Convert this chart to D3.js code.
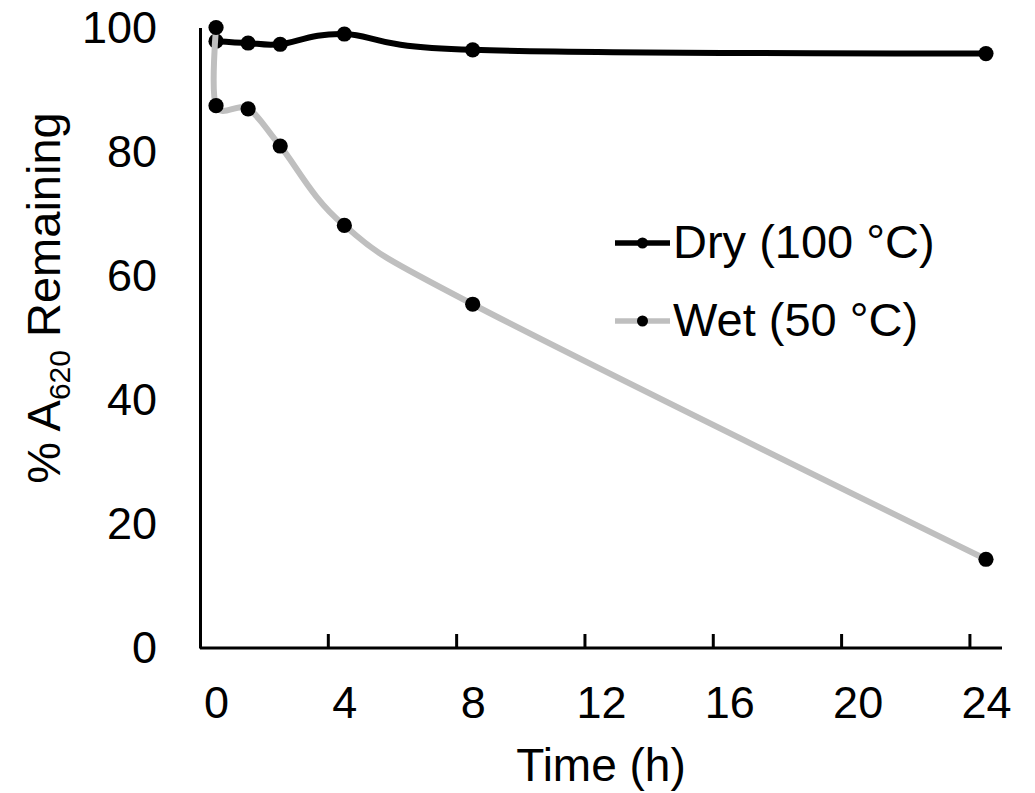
<!DOCTYPE html>
<html>
<head>
<meta charset="utf-8">
<script src="https://cdn.jsdelivr.net/npm/d3@7"></script>
<style>
  body { margin: 0; background: #fff; }
  svg text { font-family: "Liberation Sans", Arial, sans-serif; fill: #000; }
</style>
</head>
<body>
<svg id="chart" width="1035" height="793"></svg>
<script>
// data
var dryHours = [0, 1, 2, 4, 8, 24];
var dryVals = [97.8, 97.5, 97.3, 98.95, 96.4, 95.8];
var wetHours = [0, 0, 1, 2, 4, 8, 24];
var wetVals = [100, 87.4, 86.9, 80.9, 68.1, 55.4, 14.3];
var xTicks = [0, 4, 8, 12, 16, 20, 24];
var yTicks = [0, 20, 40, 60, 80, 100];
var seriesNames = ["Dry (100 \u00B0C)", "Wet (50 \u00B0C)"];

var svg = d3.select("#chart");
var fs = 45;

var x = d3.scaleLinear().domain([-0.5, 24.5]).range([200, 1002]);
var y = d3.scaleLinear().domain([0, 100]).range([648, 27.5]);

// y axis: line + labels, no ticks
var yAxis = svg.append("g")
    .attr("transform", "translate(200,0)")
    .call(d3.axisLeft(y).tickValues(yTicks).tickSize(0).tickPadding(43));
yAxis.select(".domain").attr("stroke", "#000").attr("stroke-width", 3);
yAxis.selectAll("text").attr("font-size", fs).attr("font-family", null).attr("dy", "0.33em");

// x axis: labels sit on the hours, ticks sit half an hour before
var xAxis = svg.append("g")
    .attr("transform", "translate(0,648)")
    .call(d3.axisBottom(x).tickValues(xTicks).tickSize(0).tickPadding(38));
xAxis.select(".domain").remove();
xAxis.selectAll("text").attr("font-size", fs).attr("font-family", null);

svg.append("line")
    .attr("x1", x(-0.5)).attr("x2", x(24.5))
    .attr("y1", 648).attr("y2", 648)
    .attr("stroke", "#000").attr("stroke-width", 3);

svg.selectAll(".xtick")
    .data(xTicks.slice(1))
    .enter().append("line")
    .attr("class", "xtick")
    .attr("x1", function(d) { return x(d - 0.5); })
    .attr("x2", function(d) { return x(d - 0.5); })
    .attr("y1", 648).attr("y2", 634)
    .attr("stroke", "#000").attr("stroke-width", 3);

// axis titles
svg.append("text")
    .attr("x", x(12)).attr("y", 781)
    .attr("text-anchor", "middle")
    .attr("font-size", 46)
    .text("Time (h)");

var yt = svg.append("text")
    .attr("transform", "translate(60,298) rotate(-90)")
    .attr("text-anchor", "middle")
    .attr("font-size", 47);
yt.append("tspan").text("% A");
yt.append("tspan").attr("font-size", 30).attr("dy", 10).text("620");
yt.append("tspan").attr("dy", -10).text(" Remaining");

// series
var line = d3.line()
    .x(function(d) { return x(d[0]); })
    .y(function(d) { return y(d[1]); })
    .curve(d3.curveCardinal.tension(0));

function drawSeries(hours, vals, color) {
  var pts = d3.zip(hours, vals);
  svg.append("path")
      .datum(pts)
      .attr("d", line)
      .attr("fill", "none")
      .attr("stroke", color)
      .attr("stroke-width", 6)
      .attr("stroke-linejoin", "round");
  svg.append("g").selectAll("circle")
      .data(pts)
      .enter().append("circle")
      .attr("cx", function(d) { return x(d[0]); })
      .attr("cy", function(d) { return y(d[1]); })
      .attr("r", 7.6)
      .attr("fill", "#000");
}

drawSeries(dryHours, dryVals, "#000");
drawSeries(wetHours, wetVals, "#bfbfbf");

// legend
var legendColors = ["#000", "#bfbfbf"];
var leg = svg.append("g").selectAll("g")
    .data(seriesNames)
    .enter().append("g")
    .attr("transform", function(d, i) { return "translate(615," + (243 + i * 78) + ")"; });
leg.append("line")
    .attr("x1", 0).attr("x2", 55)
    .attr("stroke", function(d, i) { return legendColors[i]; })
    .attr("stroke-width", 5.5);
leg.append("circle")
    .attr("cx", 27.5).attr("r", 5.5)
    .attr("fill", "#000");
leg.append("text")
    .attr("x", 58).attr("y", 15)
    .attr("font-size", 47)
    .text(function(d) { return d; });
</script>
</body>
</html>
